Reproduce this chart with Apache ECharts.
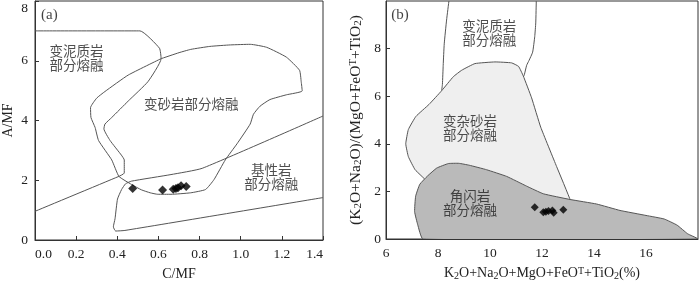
<!DOCTYPE html>
<html><head><meta charset="utf-8">
<script src="https://cdn.jsdelivr.net/npm/echarts@6/dist/echarts.min.js"></script>
<style>html,body{margin:0;padding:0;background:#fff}#c{width:700px;height:286px}</style>
</head><body><div id="c"></div>
<script>
// ---------- Panel (a): A/MF vs C/MF ----------
const aMetapelite = [[0,7.0],[0.51,7.0],[0.605,6.42],[0.613,6.07],[0.549,5.30],[0.453,4.65],[0.373,4.10],[0.34,3.88],[0.335,3.72],[0.365,3.33],[0.42,2.84],[0.434,2.68],[0.434,2.24],[0.408,2.13]];
const aLineA = [[0,0.96],[0.408,2.13]];
const aGreywacke = [[0.613,6.07],[0.70,6.27],[0.757,6.38],[0.85,6.48],[0.95,6.53],[1.046,6.55],[1.126,6.45],[1.222,6.12],[1.286,5.68],[1.294,5.30],[1.299,4.99],[1.222,4.86],[1.142,4.70],[1.094,4.48],[1.062,4.21],[1.046,3.88],[0.982,3.22],[0.925,2.68],[0.87,2.02],[0.829,1.69],[0.757,1.58],[0.661,1.53],[0.597,1.53],[0.56,1.58],[0.517,1.68],[0.469,1.86],[0.408,2.13],[0.373,2.68],[0.309,3.33],[0.292,3.77],[0.272,4.1],[0.27,4.43],[0.30,4.75],[0.34,4.97],[0.453,5.52],[0.613,6.07]];
const aBasalt = [[1.4,4.15],[0.813,2.40],[0.661,2.19],[0.469,1.97],[0.44,1.88],[0.421,1.69],[0.401,1.37],[0.389,0.71],[0.381,0.44],[0.392,0.30],[0.437,0.32],[1.4,1.42]];
const aSamples = [[0.475,1.72],[0.62,1.67],[0.672,1.70],[0.685,1.72],[0.695,1.75],[0.71,1.82],[0.735,1.79]];
const aFieldNames = ['变泥质岩\n部分熔融','变砂岩部分熔融','基性岩\n部分熔融'];
const aFieldPos = [[0.202,6.11],[0.76,4.54],[1.148,2.10]];

// ---------- Panel (b) ----------
const bPeliteLeft = [[8.42,10],[8.33,9.2],[8.24,8.2],[8.2,7.3],[8.17,6.5],[8.14,6.23]];
const bPeliteRight = [[11.78,10],[11.76,9.08],[11.72,8.5],[11.64,7.85],[11.5,7.5],[11.41,7.3],[11.32,6.9],[11.28,6.8]];
const bGreywacke = [[8.14,6.23],[8.59,6.82],[8.91,7.09],[9.42,7.37],[10.19,7.44],[10.83,7.40],[11.1,7.25],[11.28,6.85],[11.6,5.93],[11.95,4.7],[12.56,3.05],[13.1,1.6],[13.1,1.3],[7.5,2.2],[7.56,2.43],[7.12,2.91],[6.86,3.46],[6.76,4.0],[6.86,4.6],[7.15,5.15],[7.65,5.65]];
const bAmphibolite = [[7.42,0],[7.22,0.6],[7.1,1.15],[7.14,1.8],[7.3,2.3],[7.6,2.65],[7.95,2.98],[8.4,3.17],[8.8,3.18],[9.2,3.1],[9.87,2.91],[10.64,2.63],[11.41,2.22],[12.05,1.9],[13.08,1.66],[14.1,1.47],[15.0,1.2],[16.0,0.99],[16.7,0.84],[17.2,0.58],[17.6,0.22],[18,0]];
const bSamples = [[11.72,1.33],[12.05,1.12],[12.15,1.15],[12.25,1.18],[12.4,1.2],[12.45,1.1],[12.82,1.23]];
const bFieldNames = ['变泥质岩\n部分熔融','变杂砂岩\n部分熔融','角闪岩\n部分熔融'];
const bFieldPos = [[9.97,8.65],[9.23,4.65],[9.23,1.50]];

const serif = 'Liberation Serif, Times New Roman, serif';
const cjk = 'Noto Sans CJK SC';
const lineCol = '#555';
const axisCol = '#333';

function lineSeries(pts, gi) {
  return {type:'line', xAxisIndex:gi, yAxisIndex:gi, data:pts, symbol:'none', smooth:0.15,
    lineStyle:{color:lineCol, width:1}, silent:true, z:2, clip:true};
}
function polySeries(pts, gi, fill, z) {
  return {type:'custom', xAxisIndex:gi, yAxisIndex:gi, z:z, clip:true, silent:true,
    data:[pts[0]],
    renderItem:(params, api) => ({type:'polygon', shape:{points:pts.map(p=>api.coord(p)), smooth:0.12},
      style:{fill:fill, stroke:lineCol, lineWidth:1}})};
}
function labelSeries(names, pos, gi, tag, tagPos) {
  const data = names.map((n,i)=>({name:n, value:pos[i]}));
  data.push({name:tag, value:tagPos, label:{fontFamily:serif, fontSize:15, color:'#111'}});
  return {type:'scatter', xAxisIndex:gi, yAxisIndex:gi, symbolSize:1, itemStyle:{color:'rgba(0,0,0,0)'},
    silent:true, z:10, data:data,
    label:{show:true, position:'inside', formatter:p=>p.name, fontFamily:cjk, fontSize:13.5, lineHeight:14, color:'#222'}};
}
function sampleSeries(pts, gi, size) {
  return {type:'scatter', xAxisIndex:gi, yAxisIndex:gi, data:pts, symbol:'diamond', symbolSize:size,
    itemStyle:{color:'#000'}, z:8, silent:true};
}

const labelStyle = {fontFamily:serif, fontSize:13.5, color:'#222'};
const tick = {show:true, inside:true, length:4, lineStyle:{color:axisCol}};
const axLine = {show:true, lineStyle:{color:axisCol}};

function richSet(fs) {
  const sub = Math.round(fs * 0.68);
  return {
    n:{fontFamily:serif, fontSize:fs, color:'#222', lineHeight:fs+1},
    s:{fontFamily:serif, fontSize:sub, color:'#222', lineHeight:fs+1, verticalAlign:'bottom'},
    p:{fontFamily:serif, fontSize:sub, color:'#222', lineHeight:fs+1, verticalAlign:'top'}
  };
}

const option = {
  animation:false,
  backgroundColor:'#fff',
  grid:[
    {left:32, right:377, top:1, bottom:42, show:true, borderColor:axisCol, borderWidth:1, backgroundColor:'transparent'},
    {left:386, right:2, top:1, bottom:42, show:true, borderColor:axisCol, borderWidth:1, backgroundColor:'transparent'}
  ],
  xAxis:[
    {gridIndex:0, type:'value', min:0, max:1.4, interval:0.2, axisLine:axLine, axisTick:tick, splitLine:{show:false},
     axisLabel:Object.assign({formatter:v=>v.toFixed(1), margin:7, alignMinLabel:'left', alignMaxLabel:'right'}, labelStyle),
     name:'C/MF', nameLocation:'middle', nameGap:27, nameTextStyle:{fontFamily:serif, fontSize:14, color:'#222'}},
    {gridIndex:1, type:'value', min:6, max:18, interval:2, axisLine:axLine, axisTick:tick, splitLine:{show:false},
     axisLabel:Object.assign({margin:7, showMaxLabel:false}, labelStyle),
     name:'{n|K}{s|2}{n|O+Na}{s|2}{n|O+MgO+FeO}{p|T}{n|+TiO}{s|2}{n|(%)}', nameLocation:'middle', nameGap:27,
     nameTextStyle:{rich:richSet(14)}}
  ],
  yAxis:[
    {gridIndex:0, type:'value', min:0, max:8, interval:2, axisLine:axLine, axisTick:tick, splitLine:{show:false},
     axisLabel:Object.assign({margin:7, verticalAlignMaxLabel:'top'}, labelStyle),
     name:'A/MF', nameLocation:'middle', nameGap:20, nameTextStyle:{fontFamily:serif, fontSize:14, color:'#222'}},
    {gridIndex:1, type:'value', min:0, max:10, interval:2, axisLine:axLine, axisTick:tick, splitLine:{show:false},
     axisLabel:Object.assign({margin:5, showMaxLabel:false}, labelStyle),
     name:'{n|(K}{s|2}{n|O+Na}{s|2}{n|O)/(MgO+FeO}{p|T}{n|+TiO}{s|2}{n|)}', nameLocation:'middle', nameGap:22,
     nameTextStyle:{rich:richSet(15.5)}}
  ],
  series:[
    lineSeries(aMetapelite,0), lineSeries(aLineA,0), lineSeries(aGreywacke,0), lineSeries(aBasalt,0),
    sampleSeries(aSamples,0,9),
    labelSeries(aFieldNames, aFieldPos, 0, '(a)', [0.07,7.54]),
    lineSeries(bPeliteLeft,1), lineSeries(bPeliteRight,1),
    polySeries(bGreywacke,1,'#efefef',3),
    polySeries(bAmphibolite,1,'#bababa',4),
    sampleSeries(bSamples,1,8),
    labelSeries(bFieldNames, bFieldPos, 1, '(b)', [6.54,9.42])
  ]
};
const chart = echarts.init(document.getElementById('c'), null, {renderer:'canvas'});
chart.setOption(option);
</script></body></html>
